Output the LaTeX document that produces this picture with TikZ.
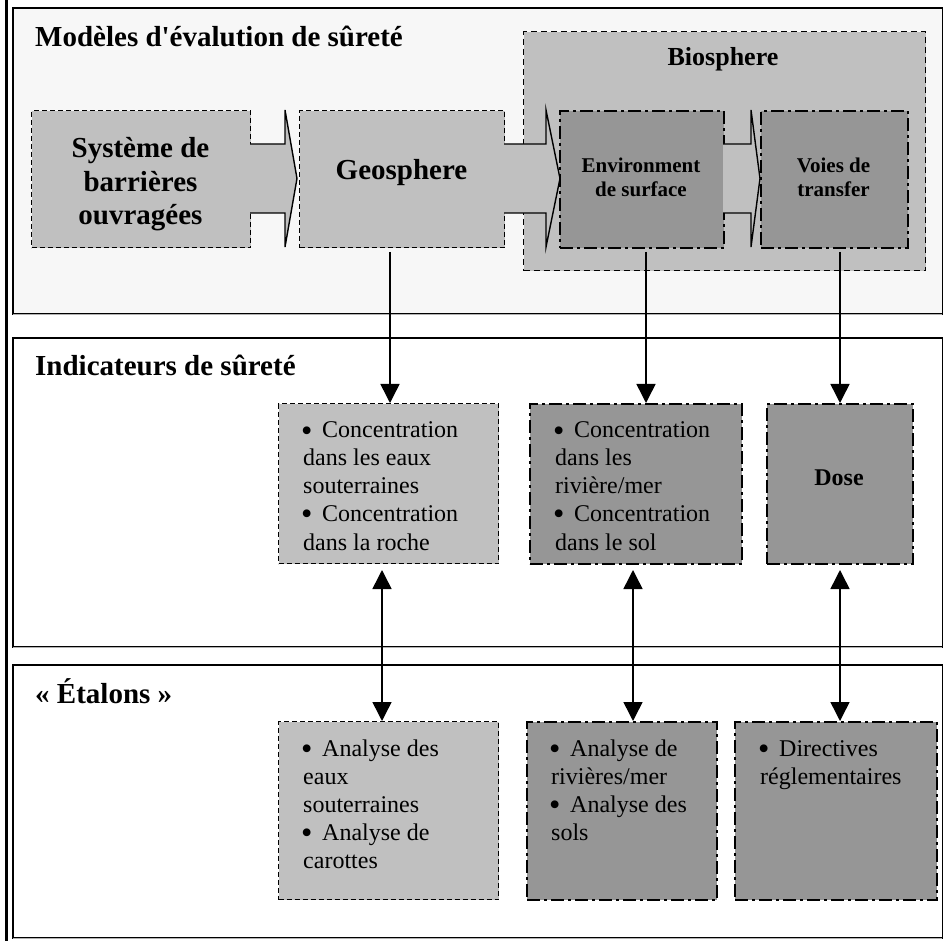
\documentclass[tikz,border=0pt]{standalone}
\usepackage{fontspec}
\usepackage{graphicx}
\setmainfont{Liberation Serif}
\setmonofont{Liberation Serif}
\usetikzlibrary{arrows.meta,calc}
\definecolor{lgray}{HTML}{C0C0C0}
\definecolor{dgray}{HTML}{969696}
\definecolor{secbg}{HTML}{F7F7F7}
\newcommand\bitem[1]{\par\noindent\hangindent=17pt\hangafter=1\makebox[19pt][l]{\hspace*{-2pt}\raisebox{-3pt}{\scalebox{1.35}{\textbullet}}}#1}
\begin{document}
\begin{tikzpicture}[x=1pt,y=-1pt,
  sec/.style={draw=black, line width=2pt, inner sep=0pt, anchor=north west},
  lbox/.style={fill=lgray, draw=black, line width=1.3pt, dash pattern=on 5pt off 3pt, inner sep=0pt, anchor=north west},
  dbox/.style={fill=dgray, draw=black, line width=2pt, dash pattern=on 13pt off 4pt on 3pt off 4pt, inner sep=0pt, anchor=north west},
  blkline/.style={draw=black, line width=1.4pt, line join=miter},
  conn/.style={line width=1.5pt, -{Triangle[length=19pt,width=19pt]}},
  dconn/.style={line width=1.5pt, {Triangle[length=19pt,width=19pt]}-{Triangle[length=19pt,width=19pt]}},
  ttl/.style={font=\fontsize{29}{34}\selectfont\bfseries, inner sep=0pt, anchor=base west},
  btxt/.style={inner sep=0pt, anchor=base},
  ltxt/.style={inner sep=0pt, anchor=base west, font=\fontsize{24}{28}\selectfont}
]
\useasboundingbox (0,0) rectangle (943,941);
% sections
\node[sec, fill=secbg, minimum width=930pt, minimum height=306pt] (s1) at (12,7) {};
\node[sec, fill=white, minimum width=930pt, minimum height=309pt] (s2) at (12,337) {};
\node[sec, fill=white, minimum width=930pt, minimum height=273pt] (s3) at (12,664) {};
\draw[gray!60, line width=1pt] (13,314.5) -- (942,314.5);
\draw[gray!60, line width=1pt] (13,647.5) -- (942,647.5);
\draw[gray!60, line width=1pt] (13,938.5) -- (942,938.5);
\draw[line width=2.5pt] (6.5,0) -- (6.5,941);
% titles
\node[ttl] (t1) at (35,47) {Modèles d{\ttfamily '}évalution de sûreté};
\node[ttl] (t2) at (35,376) {Indicateurs de sûreté};
\node[ttl] (t3) at (35,703) {« Étalons »};
% section 1 boxes
\node[lbox, minimum width=219pt, minimum height=137pt] (sys) at (31,110) {};
\node[lbox, minimum width=205pt, minimum height=137pt] (geo) at (299,110) {};
\node[lbox, dash pattern=on 6pt off 4pt, minimum width=402pt, minimum height=239pt] (bio) at (523,31) {};
\node[dbox, minimum width=164pt, minimum height=137pt] (env) at (559,110) {};
\node[dbox, minimum width=147pt, minimum height=137pt] (voi) at (760,110) {};
\node[btxt, font=\fontsize{29}{33.5}\selectfont\bfseries] (syst) at (140.5,158) {\parbox[t]{210pt}{\centering Système de\\barrières\\ouvragées}};
\node[btxt, font=\fontsize{29}{34}\selectfont\bfseries] (geot) at (401.5,180) {Geosphere};
\node[btxt, font=\fontsize{26}{30}\selectfont\bfseries] (biot) at (723,66) {Biosphere};
\node[btxt, font=\fontsize{21}{24}\selectfont\bfseries] (envt) at (641,173) {\parbox[t]{160pt}{\centering Environment\\de surface}};
\node[btxt, font=\fontsize{21}{24}\selectfont\bfseries] (voit) at (833.5,173) {\parbox[t]{140pt}{\centering Voies de\\transfer}};
% block arrows
\foreach \xa/\hb/\tp in {250/285/297, 504/546/560, 723/751/760}{
  \fill[lgray] (\xa,144) -- (\hb,144) -- (\hb,110) -- (\tp,178.5) -- (\hb,247) -- (\hb,213) -- (\xa,213) -- cycle;
  \draw[blkline] (\xa,144) -- (\hb,144) -- (\hb,110) -- (\tp,178.5) -- (\hb,247) -- (\hb,213) -- (\xa,213);
}
% section 2 boxes
\node[lbox, minimum width=220pt, minimum height=160pt] (c1) at (278,403) {};
\node[dbox, minimum width=212pt, minimum height=160pt] (c2) at (529,403) {};
\node[dbox, minimum width=146pt, minimum height=160pt] (dose) at (766,403) {};
\node[ltxt] (c1t) at (303,438) {\parbox[t]{195pt}{\raggedright\bitem{Concentration\\dans les eaux\\souterraines}\bitem{Concentration\\dans la roche}}};
\node[ltxt] (c2t) at (555,438) {\parbox[t]{185pt}{\raggedright\bitem{Concentration\\dans les\\rivière/mer}\bitem{Concentration\\dans le sol}}};
\node[btxt, font=\fontsize{24}{28}\selectfont\bfseries] (doset) at (839,485) {Dose};
% section 3 boxes
\node[lbox, minimum width=220pt, minimum height=178pt] (a1) at (278,721) {};
\node[dbox, minimum width=190pt, minimum height=178pt] (a2) at (526,721) {};
\node[dbox, minimum width=202pt, minimum height=178pt] (a3) at (734,721) {};
\node[ltxt] (a1t) at (303,756) {\parbox[t]{190pt}{\raggedright\bitem{Analyse des\\eaux\\souterraines}\bitem{Analyse de\\carottes}}};
\node[ltxt] (a2t) at (551,756) {\parbox[t]{165pt}{\raggedright\bitem{Analyse de\\rivières/mer}\bitem{Analyse des\\sols}}};
\node[ltxt] (a3t) at (760,756) {\parbox[t]{175pt}{\raggedright\bitem{Directives\\réglementaires}}};
% connectors
\coordinate (g1) at (390,252);
\coordinate (g2) at (646,252);
\coordinate (g3) at (840,252);
\draw[conn] (g1) -- (g1 |- c1.north);
\draw[conn] (g2) -- (g2 |- c2.north);
\draw[conn] (g3) -- (g3 |- dose.north);
\coordinate (u1) at (382,570);
\coordinate (u2) at (633,570);
\coordinate (u3) at (840,570);
\draw[dconn] (u1) -- (u1 |- a1.north);
\draw[dconn] (u2) -- (u2 |- a2.north);
\draw[dconn] (u3) -- (u3 |- a3.north);
\end{tikzpicture}
\end{document}
